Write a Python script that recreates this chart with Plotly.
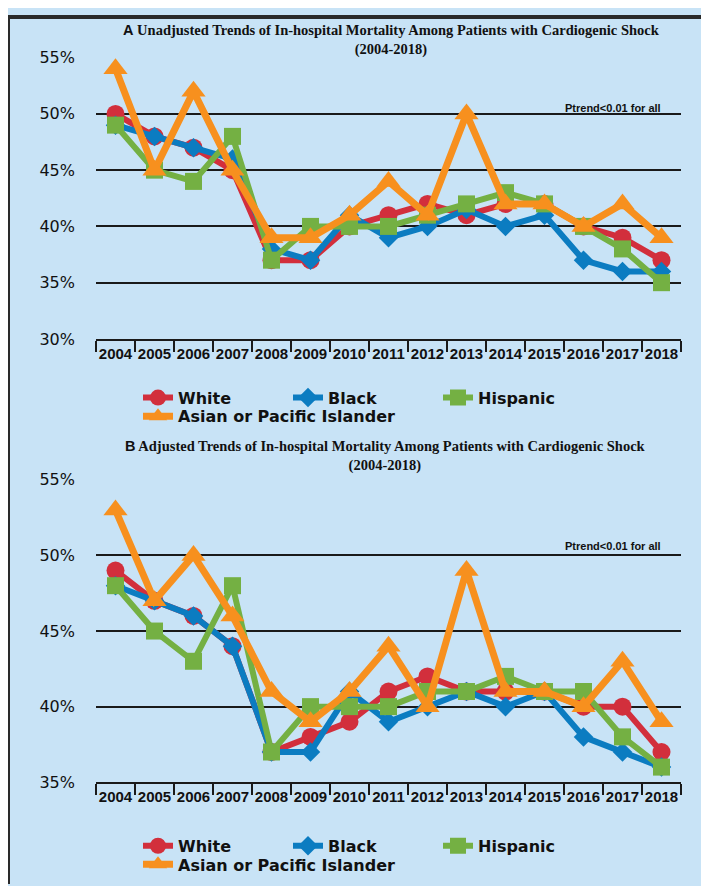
import plotly.graph_objects as go

# categories
YEARS = ["2004", "2005", "2006", "2007", "2008", "2009", "2010", "2011",
         "2012", "2013", "2014", "2015", "2016", "2017", "2018"]

# panel A - unadjusted in-hospital mortality (%)
UNADJ_WHITE = [50, 48, 47, 45, 37, 37, 40, 41, 42, 41, 42, 42, 40, 39, 37]
UNADJ_BLACK = [49, 48, 47, 46, 38, 37, 41, 39, 40, 41.5, 40, 41, 37, 36, 36]
UNADJ_HISPANIC = [49, 45, 44, 48, 37, 40, 40, 40, 41, 42, 43, 42, 40, 38, 35]
UNADJ_ASIAN = [54, 45, 52, 45, 39, 39, 41, 44, 41, 50, 42, 42, 40, 42, 39]

# panel B - adjusted in-hospital mortality (%)
ADJ_WHITE = [49, 47, 46, 44, 37, 38, 39, 41, 42, 41, 41, 41, 40, 40, 37]
ADJ_BLACK = [48, 47, 46, 44, 37, 37, 41, 39, 40, 41, 40, 41, 38, 37, 36]
ADJ_HISPANIC = [48, 45, 43, 48, 37, 40, 40, 40, 41, 41, 42, 41, 41, 38, 36]
ADJ_ASIAN = [53, 47, 50, 46, 41, 39, 41, 44, 40, 49, 41, 41, 40, 43, 39]

TOP_TICKS = [30, 35, 40, 45, 50, 55]
TOP_TICK_TEXT = ["30%", "35%", "40%", "45%", "50%", "55%"]
BOTTOM_TICKS = [35, 40, 45, 50, 55]
BOTTOM_TICK_TEXT = ["35%", "40%", "45%", "50%", "55%"]

BG = "#c8e3f6"
W, H = 709, 886

# name -> (colour, symbol, marker size)
STYLE = {
    "White": ("#d22f3c", "circle", 18),
    "Black": ("#0b7cc1", "diamond", 15),
    "Hispanic": ("#74b043", "square", 17),
    "Asian or Pacific Islander": ("#f7901e", "triangle-up", 21),
}

series = [
    ("White", UNADJ_WHITE, ADJ_WHITE),
    ("Black", UNADJ_BLACK, ADJ_BLACK),
    ("Hispanic", UNADJ_HISPANIC, ADJ_HISPANIC),
    ("Asian or Pacific Islander", UNADJ_ASIAN, ADJ_ASIAN),
]


def py(px):
    """pixel row -> paper y (margins are zero)"""
    return 1 - px / H


fig = go.Figure()

for name, top, bottom in series:
    color, symbol, size = STYLE[name]
    asian = name.startswith("Asian")
    width = 7 if asian else 6
    fig.add_trace(go.Scatter(
        x=YEARS, y=top, name=name, mode="lines+markers",
        xaxis="x", yaxis="y", legend="legend2" if asian else "legend",
        line=dict(color=color, width=width),
        marker=dict(color=color, symbol=symbol, size=size),
        cliponaxis=False))
    fig.add_trace(go.Scatter(
        x=YEARS, y=bottom, name=name, mode="lines+markers",
        xaxis="x2", yaxis="y2", legend="legend4" if asian else "legend3",
        line=dict(color=color, width=width),
        marker=dict(color=color, symbol=symbol, size=size),
        cliponaxis=False))

x_dom = [88 / W, 673 / W]
xaxis_common = dict(
    domain=x_dom, type="category", range=[-0.5, 14.5],
    showgrid=False, showline=True, linecolor="#1a1a1a", linewidth=2,
    ticks="outside", tickson="boundaries", ticklen=11, tickwidth=2,
    tickcolor="#1a1a1a", tickangle=0,
    tickfont=dict(family="Liberation Sans Narrow, Arial Narrow, sans-serif",
                  size=15, color="#111", weight="bold"),
)
yaxis_common = dict(
    showgrid=True, gridcolor="#1a1a1a", gridwidth=1.5, zeroline=False,
    showline=False, ticks="", tickmode="array", ticklabelstandoff=20,
    tickfont=dict(family="DejaVu Sans, Verdana, sans-serif", size=16, color="#111"),
)

legend_font = dict(family="DejaVu Sans, Verdana, sans-serif", size=16,
                   color="#111", weight="bold")
row1 = dict(orientation="h", xanchor="left", yanchor="middle",
            bgcolor="rgba(0,0,0,0)", borderwidth=0, entrywidth=105,
            font=legend_font)
row2 = dict(orientation="h", xanchor="left", yanchor="middle",
            bgcolor="rgba(0,0,0,0)", borderwidth=0, font=legend_font)

fig.update_layout(
    width=W, height=H, margin=dict(l=0, r=0, t=0, b=0),
    paper_bgcolor=BG, plot_bgcolor=BG, showlegend=True,
    xaxis=dict(anchor="y", **xaxis_common),
    yaxis=dict(anchor="x", domain=[py(329), py(41.5)], range=[30, 55],
               tickvals=TOP_TICKS, ticktext=TOP_TICK_TEXT, **yaxis_common),
    xaxis2=dict(anchor="y2", **xaxis_common),
    yaxis2=dict(anchor="x2", domain=[py(782), py(473)], range=[35, 55],
                tickvals=BOTTOM_TICKS, ticktext=BOTTOM_TICK_TEXT, **yaxis_common),
    legend=dict(x=130 / W, y=py(389), **row1),
    legend2=dict(x=130 / W, y=py(408), **row2),
    legend3=dict(x=130 / W, y=py(847), **row1),
    legend4=dict(x=130 / W, y=py(866), **row2),
)

title_font = dict(family="Liberation Serif, Times New Roman, serif", size=14.5, color="#111")
letter = "<span style='font-family:Liberation Sans, Arial, sans-serif'>{}</span>"
fig.add_annotation(
    x=383 / W, y=py(24), xref="paper", yref="paper", showarrow=False,
    xanchor="center", yanchor="middle", align="center", font=title_font,
    text="<b>" + letter.format("A") + " Unadjusted Trends of In-hospital Mortality "
         "Among Patients with Cardiogenic Shock<br>(2004-2018)</b>")
fig.add_annotation(
    x=378 / W, y=py(449), xref="paper", yref="paper", showarrow=False,
    xanchor="center", yanchor="middle", align="center", font=title_font,
    text="<b>" + letter.format("B") + " Adjusted Trends of In-hospital Mortality "
         "Among Patients with Cardiogenic Shock<br>(2004-2018)</b>")

ptrend_font = dict(family="Liberation Sans, Arial, sans-serif", size=11, color="#111")
for yy in (93, 541):
    fig.add_annotation(
        x=655 / W, y=py(yy), xref="paper", yref="paper", showarrow=False,
        xanchor="right", yanchor="middle", font=ptrend_font,
        text="<b>Ptrend<0.01 for all</b>")

# dark frame round the picture
frame = "#2a2a2a"
fig.add_shape(type="line", xref="paper", yref="paper", x0=0, x1=1, y0=1, y1=1,
              line=dict(color=frame, width=4))
fig.add_shape(type="line", xref="paper", yref="paper", x0=0, x1=0, y0=0, y1=1,
              line=dict(color=frame, width=4))
fig.add_shape(type="line", xref="paper", yref="paper", x0=1, x1=1, y0=0, y1=1,
              line=dict(color=frame, width=3))

fig.write_html("out.html")
